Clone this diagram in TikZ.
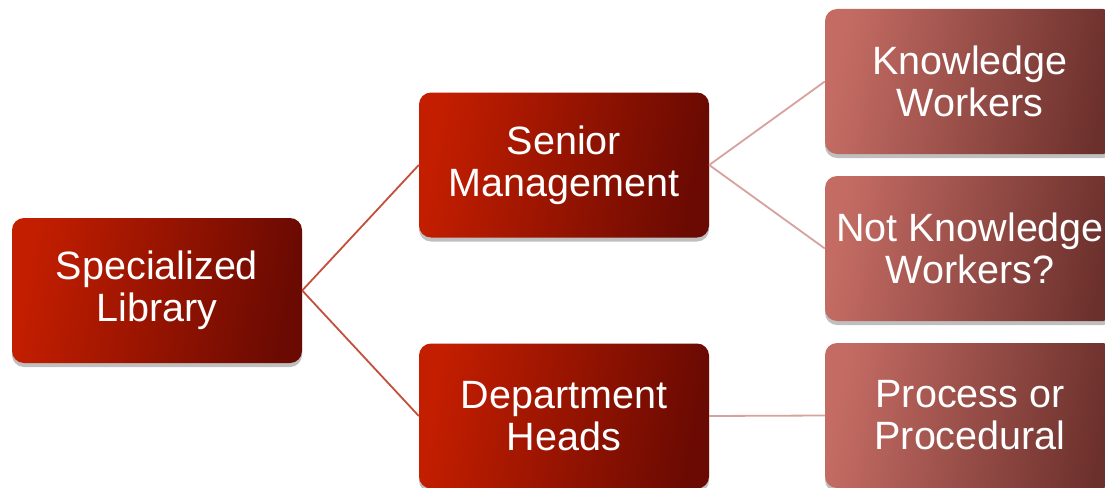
\documentclass[tikz,border=0pt]{standalone}
\usepackage{fontspec}
\setmainfont{Liberation Sans}
\usetikzlibrary{shadows}
\definecolor{lvlAleft}{HTML}{C41E00}
\definecolor{lvlAright}{HTML}{6A0A02}
\definecolor{lvlBleft}{HTML}{C46C64}
\definecolor{lvlBright}{HTML}{6C302C}
\definecolor{linkA}{HTML}{C4503C}
\definecolor{linkB}{HTML}{D8A29C}
\tikzset{
  x=1pt, y=-1pt,
  boxbase/.style={rectangle, rounded corners=12pt, minimum width=290pt, minimum height=145pt,
    inner sep=0pt, align=center, text=white, font=\fontsize{39.5}{42}\selectfont,
    drop shadow={shadow xshift=0pt, shadow yshift=-4pt, opacity=0.25, fill=black}},
  lvlA/.style={boxbase, left color=lvlAleft, right color=lvlAright, shading angle=80},
  lvlB/.style={boxbase, left color=lvlBleft, right color=lvlBright, shading angle=80},
  linkAstyle/.style={draw=linkA, line width=1.8pt},
  linkBstyle/.style={draw=linkB, line width=1.8pt}
}
\begin{document}
\begin{tikzpicture}
\useasboundingbox (0,0) rectangle (1105,487);
\clip (0,0) rectangle (1105,487);
\fill[white] (0,0) rectangle (1105,487);
\node[lvlA] (lib) at (157,290.5) {Specialized\\Library};
\node[lvlA] (sen) at (564,165) {Senior\\Management};
\node[lvlA] (dep) at (564,416) {Department\\Heads};
\node[lvlB] (kw) at (970,81.5) {Knowledge\\Workers};
\node[lvlB] (nkw) at (970,248.5) {Not Knowledge\\Workers?};
\node[lvlB] (pp) at (970,415.5) {Process or\\Procedural};
\draw[linkAstyle] (lib.east) -- (sen.west);
\draw[linkAstyle] (lib.east) -- (dep.west);
\draw[linkBstyle] (sen.east) -- (kw.west);
\draw[linkBstyle] (sen.east) -- (nkw.west);
\draw[linkBstyle] (dep.east) -- (pp.west);
\end{tikzpicture}
\end{document}
